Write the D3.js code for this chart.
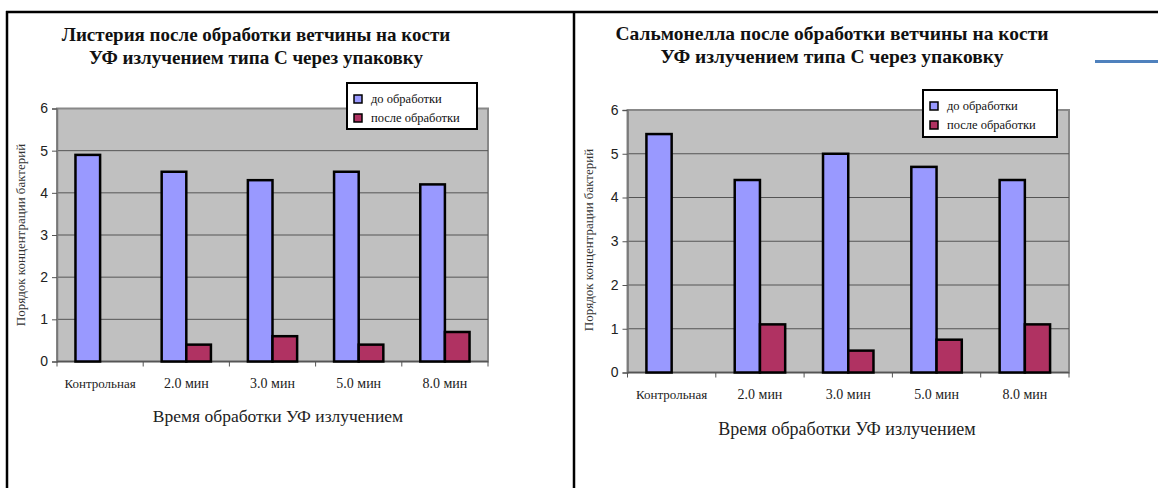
<!DOCTYPE html>
<html><head><meta charset="utf-8">
<script src="https://cdn.jsdelivr.net/npm/d3@7"></script>
<style>
html,body{margin:0;padding:0;background:#fff;}
svg{display:block;}
</style></head>
<body>
<svg id="c" width="1158" height="488"></svg>
<script>
const categories = ["Контрольная", "2.0 мин", "3.0 мин", "5.0 мин", "8.0 мин"];
const seriesNames = ["до обработки", "после обработки"];
const listeriaBefore = [4.9, 4.5, 4.3, 4.5, 4.2];
const listeriaAfter = [null, 0.4, 0.6, 0.4, 0.7];
const salmonellaBefore = [5.45, 4.4, 5.0, 4.7, 4.4];
const salmonellaAfter = [null, 1.1, 0.5, 0.75, 1.1];
const yTicks = [0, 1, 2, 3, 4, 5, 6];
const listeriaTitle = ["Листерия после обработки ветчины на кости", "УФ излучением типа С через упаковку"];
const salmonellaTitle = ["Сальмонелла после обработки ветчины на кости", "УФ излучением типа С через упаковку"];
const yTitle = "Порядок концентрации бактерий";
const xTitle = "Время обработки УФ излучением";

const colors = ["#9999ff", "#b03262"];
const svg = d3.select("#c");
const serif = "'Liberation Serif','Times New Roman',serif";
const sans = "'Liberation Sans',Arial,sans-serif";

// frame
svg.append("line").attr("x1",7).attr("x2",7).attr("y1",11).attr("y2",488).attr("stroke","#000").attr("stroke-width",2.5);
svg.append("line").attr("x1",6).attr("x2",1158).attr("y1",12).attr("y2",12).attr("stroke","#000").attr("stroke-width",2.5);
svg.append("line").attr("x1",574).attr("x2",574).attr("y1",11).attr("y2",488).attr("stroke","#000").attr("stroke-width",2.5);
svg.append("line").attr("x1",1095).attr("x2",1158).attr("y1",61.5).attr("y2",61.5).attr("stroke","#4f81bd").attr("stroke-width",3);

function drawChart(o) {
  const g = svg.append("g");
  const x = d3.scaleBand().domain(categories).range([o.x0, o.x1]).paddingInner(0).paddingOuter(0);
  const inner = d3.scaleBand().domain(seriesNames).range([0, x.bandwidth()]).paddingInner(0).paddingOuter(0.75);
  const y = d3.scaleLinear().domain([0, 6]).range([o.yb, o.yt]);

  // title
  o.title.forEach((t, i) => {
    g.append("text").attr("x", o.tcx).attr("y", o.ty + i * 23).attr("text-anchor","middle")
      .attr("font-family", serif).attr("font-weight","bold").attr("font-size", o.tfs).attr("fill","#111").text(t);
  });

  // plot area
  g.append("rect").attr("x", o.x0).attr("y", o.yt).attr("width", o.x1 - o.x0).attr("height", o.yb - o.yt)
    .attr("fill", "#c0c0c0").attr("stroke", "#888").attr("stroke-width", 2);

  // gridlines
  g.selectAll(".grid").data(yTicks.filter(d => d > 0 && d < 6)).enter().append("line")
    .attr("x1", o.x0).attr("x2", o.x1).attr("y1", d => y(d)).attr("y2", d => y(d))
    .attr("stroke", "#555").attr("stroke-width", 1);

  // y axis
  const ya = g.append("g").attr("transform", `translate(${o.x0},0)`)
    .call(d3.axisLeft(y).tickValues(yTicks).tickSize(5).tickPadding(4).tickFormat(d3.format("d")));
  ya.select(".domain").attr("stroke", "#777").attr("stroke-width", 1.5);
  ya.selectAll(".tick line").attr("stroke", "#555");
  ya.selectAll(".tick text").attr("font-family", sans).attr("font-size", 14).attr("fill", "#222");

  // x axis baseline and boundary ticks
  const bounds = categories.map(c => x(c)).concat([o.x1]);
  g.selectAll(".xt").data(bounds).enter().append("line")
    .attr("x1", d => d).attr("x2", d => d).attr("y1", o.yb).attr("y2", o.yb + 5)
    .attr("stroke", "#555").attr("stroke-width", 1);
  g.append("line").attr("x1", o.x0).attr("x2", o.x1).attr("y1", o.yb).attr("y2", o.yb)
    .attr("stroke", "#555").attr("stroke-width", 1.5);

  // bars
  const series = [o.before, o.after];
  series.forEach((vals, si) => {
    g.selectAll(".b" + si).data(vals.map((v, i) => ({c: categories[i], v})).filter(d => d.v != null))
      .enter().append("rect")
      .attr("x", d => x(d.c) + inner(seriesNames[si]))
      .attr("width", inner.bandwidth())
      .attr("y", d => y(d.v)).attr("height", d => y(0) - y(d.v))
      .attr("fill", colors[si]).attr("stroke", "#000").attr("stroke-width", 2.5);
  });

  // category labels
  g.selectAll(".cl").data(categories).enter().append("text")
    .attr("x", d => x(d) + x.bandwidth() / 2).attr("y", o.yb + 26).attr("text-anchor", "middle")
    .attr("font-family", serif).attr("font-size", d => d === categories[0] ? 13 : 14).attr("fill", "#222").text(d => d);

  // x title
  g.append("text").attr("x", o.xtcx).attr("y", o.xty).attr("text-anchor", "middle")
    .attr("font-family", serif).attr("font-size", o.xfs).attr("fill", "#222").text(xTitle);

  // y title
  g.append("text").attr("transform", `translate(${o.ytx},${o.ytcy}) rotate(-90)`).attr("text-anchor", "middle")
    .attr("font-family", serif).attr("font-size", 13).attr("fill", "#333").text(yTitle);

  // legend
  const L = o.leg;
  g.append("rect").attr("x", L.x).attr("y", L.y).attr("width", L.w).attr("height", L.h)
    .attr("fill", "#fff").attr("stroke", "#000").attr("stroke-width", 2);
  seriesNames.forEach((s, i) => {
    g.append("rect").attr("x", L.x + 7).attr("y", L.y + 12 + i * 19).attr("width", 8).attr("height", 8)
      .attr("fill", colors[i]).attr("stroke", "#000").attr("stroke-width", 1.5);
    g.append("text").attr("x", L.x + 24).attr("y", L.y + 20 + i * 19)
      .attr("font-family", serif).attr("font-size", 12.5).attr("fill", "#111").text(s);
  });
}

drawChart({
  x0: 57, x1: 488, yt: 108.5, yb: 361.5,
  before: listeriaBefore, after: listeriaAfter, title: listeriaTitle, tfs: 19, xfs: 17.5,
  tcx: 256, ty: 41, xtcx: 278, xty: 422, ytx: 25, ytcy: 235,
  leg: {x: 347, y: 83, w: 130, h: 46}
});
drawChart({
  x0: 627.5, x1: 1069, yt: 110, yb: 372.5,
  before: salmonellaBefore, after: salmonellaAfter, title: salmonellaTitle, tfs: 19.5, xfs: 18,
  tcx: 832, ty: 40, xtcx: 847, xty: 435, ytx: 593, ytcy: 240,
  leg: {x: 923, y: 90, w: 134, h: 47}
});
</script>
</body></html>
